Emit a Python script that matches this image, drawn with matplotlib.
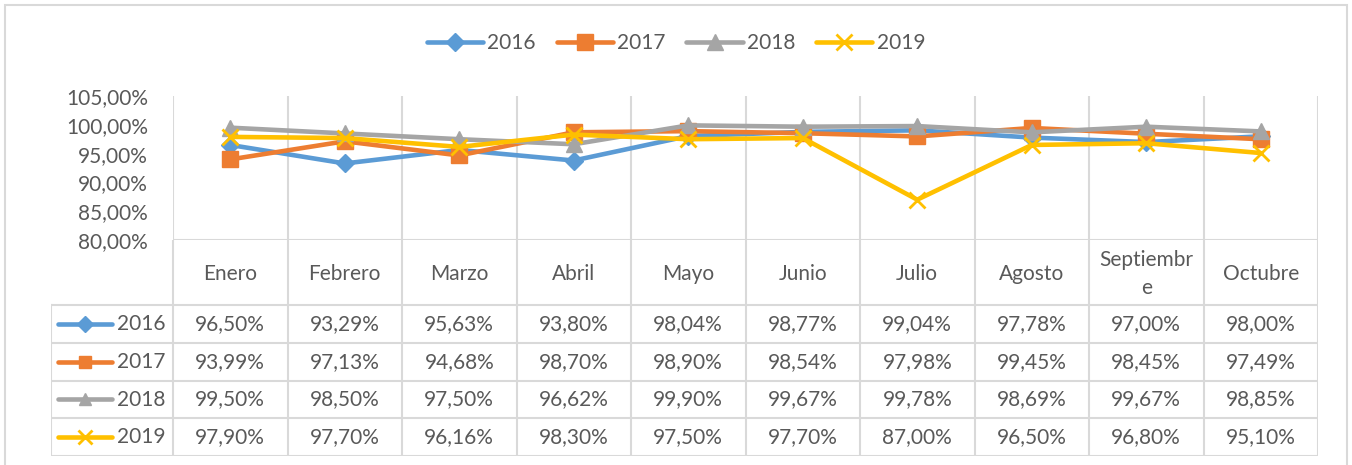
import numpy as np
import matplotlib.pyplot as plt
from matplotlib.patches import Rectangle

plt.rcParams['font.family'] = ['Lato', 'DejaVu Sans']

meses = ["Enero", "Febrero", "Marzo", "Abril", "Mayo", "Junio", "Julio",
         "Agosto", "Septiembr\ne", "Octubre"]
anios = ["2016", "2017", "2018", "2019"]
v2016 = [96.50, 93.29, 95.63, 93.80, 98.04, 98.77, 99.04, 97.78, 97.00, 98.00]
v2017 = [93.99, 97.13, 94.68, 98.70, 98.90, 98.54, 97.98, 99.45, 98.45, 97.49]
v2018 = [99.50, 98.50, 97.50, 96.62, 99.90, 99.67, 99.78, 98.69, 99.67, 98.85]
v2019 = [97.90, 97.70, 96.16, 98.30, 97.50, 97.70, 87.00, 96.50, 96.80, 95.10]
yticks = [80, 85, 90, 95, 100, 105]

series = [v2016, v2017, v2018, v2019]
colores = ['#5B9BD5', '#ED7D31', '#A5A5A5', '#FFC000']
marcadores = ['D', 's', '^', 'x']
tamanos = [9, 11, 11, 12]
gris = '#D9D9D9'
texto = '#595959'
fs = 15

W, H = 1352, 465
fig = plt.figure(figsize=(W / 100, H / 100), dpi=100)

# marco exterior
fig.patches.append(Rectangle((5 / W, -0.01), (1347 - 5) / W, (H - 5) / H + 0.01,
                             transform=fig.transFigure, fill=False,
                             edgecolor=gris, linewidth=1.5))

# zona del grafico
x0, x1, ytop, ybot = 173, 1318, 96, 240
ax = fig.add_axes([x0 / W, 1 - ybot / H, (x1 - x0) / W, (ybot - ytop) / H])
x = np.arange(len(meses))
lineas = []
for vals, c, m, ms, nombre in zip(series, colores, marcadores, tamanos, anios):
    ln, = ax.plot(x, vals, color=c, linewidth=3.3, marker=m, markersize=ms,
                  markeredgewidth=2 if m == 'x' else 1, markeredgecolor=c,
                  label=nombre, solid_capstyle='round', zorder=3)
    lineas.append(ln)
ax.set_xlim(-0.5, len(meses) - 0.5)
ax.set_ylim(80, 105)
ax.set_yticks(yticks)
ax.set_yticklabels([f"{t},00%" for t in yticks], fontsize=fs, color=texto)
ax.set_xticks([])
ax.tick_params(axis='y', length=0, pad=18)
for s in ax.spines.values():
    s.set_visible(False)
for i in range(len(meses) + 1):
    ax.axvline(i - 0.5, color=gris, linewidth=1.5, zorder=1)
ax.axhline(80, color=gris, linewidth=1.5, zorder=1)

fig.legend(handles=lineas, loc='center', bbox_to_anchor=(0.5, 1 - 43 / H),
           ncol=4, frameon=False, fontsize=fs, handlelength=2.7,
           columnspacing=1.0, handletextpad=0.2, labelcolor=texto)

# tabla de datos
tx0, tybot = 51, 456
cw = (x1 - x0) / len(meses)
xl = -0.5 - (x0 - tx0) / cw
tax = fig.add_axes([tx0 / W, 1 - tybot / H, (x1 - tx0) / W, (tybot - ybot) / H])
tax.set_xlim(xl, len(meses) - 0.5)
tax.set_ylim(tybot - ybot, 0)
tax.axis('off')

filas = [65, 103, 141, 178, 216]
for i in range(len(meses) + 1):
    tax.plot([i - 0.5, i - 0.5], [0, filas[-1]], color=gris, lw=1.5)
tax.plot([xl, xl], [filas[0], filas[-1]], color=gris, lw=1.5)
for yy in filas:
    tax.plot([xl, len(meses) - 0.5], [yy, yy], color=gris, lw=1.5)

for i, m in enumerate(meses):
    tax.text(i, filas[0] / 2 + 2, m, ha='center', va='center', fontsize=fs,
             color=texto, linespacing=1.5)

for r, (vals, c, mk, ms, nombre) in enumerate(zip(series, colores, marcadores, tamanos, anios)):
    yc = (filas[r] + filas[r + 1]) / 2
    k0 = xl + 7 / cw
    k1 = xl + 61 / cw
    tax.plot([k0, k1], [yc, yc], color=c, lw=3.3, solid_capstyle='round')
    tax.plot([(k0 + k1) / 2], [yc], marker=mk, color=c, markersize=ms * 0.85,
             markeredgewidth=2 if mk == 'x' else 1)
    tax.text(xl + 66 / cw, yc, nombre, ha='left', va='center', fontsize=fs, color=texto)
    for i, v in enumerate(vals):
        tax.text(i, yc, f"{v:.2f}%".replace('.', ','), ha='center', va='center',
                 fontsize=fs, color=texto)

fig.savefig('out.png', dpi=100)
